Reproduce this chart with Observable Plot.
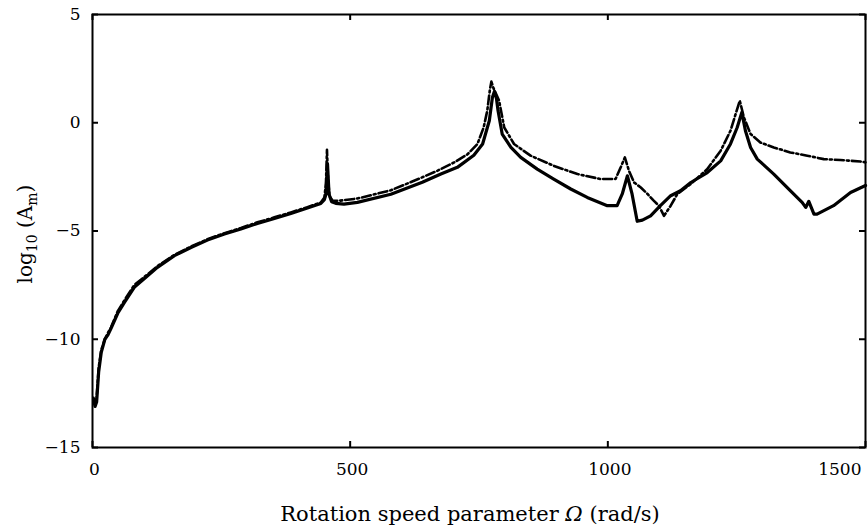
<!DOCTYPE html>
<html>
<head>
<meta charset="utf-8">
<script src="https://cdn.jsdelivr.net/npm/d3@7"></script>
<script src="https://cdn.jsdelivr.net/npm/@observablehq/plot@0.6"></script>
<style>
  html, body { margin: 0; padding: 0; background: #fff; }
  #chart { width: 868px; height: 532px; }
</style>
</head>
<body>
<div id="chart"></div>
<script>
// Rotation speed Ω (rad/s) and log10(Am) — solid curve
const solidOmega = [2,5,8,12,17,24,30,36,49,62,81,107,126,159,191,223,256,288,320,353,385,417,443,450,453,456,459,464,472,488,514,579,640,676,708,740,757,770,776,780,784,787,795,812,831,863,895,928,960,999,1018,1028,1038,1047,1057,1067,1083,1102,1122,1141,1161,1193,1219,1238,1251,1260,1267,1277,1290,1322,1354,1377,1384,1390,1400,1406,1438,1471,1500];
const solidLogA = [-12.8,-13.1,-12.9,-11.5,-10.6,-10.0,-9.8,-9.5,-8.8,-8.3,-7.6,-7.07,-6.68,-6.14,-5.76,-5.42,-5.14,-4.91,-4.65,-4.42,-4.19,-3.94,-3.73,-3.55,-3.3,-1.9,-3.3,-3.65,-3.72,-3.76,-3.68,-3.3,-2.75,-2.37,-2.06,-1.5,-0.98,0.09,1.17,1.45,1.1,0.55,-0.52,-1.14,-1.6,-2.14,-2.6,-3.06,-3.45,-3.83,-3.83,-3.29,-2.45,-3.29,-4.55,-4.5,-4.3,-3.83,-3.37,-3.14,-2.76,-2.3,-1.76,-0.98,-0.22,0.48,-0.37,-1.14,-1.68,-2.37,-3.14,-3.68,-3.91,-3.63,-4.22,-4.22,-3.83,-3.22,-2.9];

// dashed curve
const dashedOmega = [2,5,8,12,17,24,30,36,49,62,81,107,126,159,191,223,256,288,320,353,385,417,443,450,453,455,457,460,466,480,514,579,637,669,702,728,747,759,766,771,774,778,789,799,818,850,895,941,986,1015,1025,1033,1041,1051,1064,1077,1089,1099,1109,1122,1135,1161,1193,1219,1238,1256,1264,1277,1296,1322,1354,1387,1419,1451,1490,1500];
const dashedLogA = [-12.7,-13.0,-12.7,-11.3,-10.5,-10.0,-9.7,-9.45,-8.7,-8.2,-7.5,-7.0,-6.62,-6.1,-5.72,-5.38,-5.1,-4.86,-4.6,-4.37,-4.14,-3.9,-3.68,-3.45,-2.8,-1.25,-2.6,-3.4,-3.6,-3.6,-3.5,-3.12,-2.55,-2.22,-1.83,-1.45,-0.98,-0.22,0.55,1.5,1.9,1.6,1.02,-0.22,-0.98,-1.52,-1.99,-2.37,-2.6,-2.6,-2.06,-1.6,-2.22,-2.76,-2.99,-3.29,-3.6,-3.83,-4.3,-3.83,-3.29,-2.83,-2.14,-1.29,-0.37,1.02,0.25,-0.52,-0.91,-1.14,-1.37,-1.52,-1.68,-1.72,-1.79,-1.83];

const xTicks = [0, 500, 1000, 1500];
const yTicks = [-15, -10, -5, 0, 5];
const xLabel = ["Rotation speed parameter ", "Ω", " (rad/s)"];
const yLabel = ["log", "10", " (A", "m", ")"];

const solid = solidOmega.map((x, i) => ({x, y: solidLogA[i]}));
const dashed = dashedOmega.map((x, i) => ({x, y: dashedLogA[i]}));
const fmt = d => d < 0 ? "\u2212" + Math.abs(d) : String(d);

const W = 868, H = 532, mL = 92, mR = 3, mT = 14, mB = 85, tick = 6;
const innerW = W - mL - mR, innerH = H - mT - mB;

const svg = Plot.plot({
  width: W,
  height: H,
  marginLeft: mL,
  marginRight: mR,
  marginTop: mT,
  marginBottom: mB,
  style: {fontFamily: "DejaVu Serif", fontSize: "17px", color: "black", background: "white"},
  x: {domain: [0, 1500]},
  y: {domain: [-15, 5]},
  marks: [
    // tick labels
    Plot.axisY(yTicks, {anchor: "left", tickSize: 0, tickPadding: 12, tickFormat: fmt, label: null}),
    Plot.axisX(xTicks.slice(0, 3), {anchor: "bottom", tickSize: 0, tickPadding: 15, tickFormat: fmt, label: null, dx: 2}),
    Plot.axisX(xTicks.slice(3), {anchor: "bottom", tickSize: 0, tickPadding: 15, tickFormat: fmt, label: null, textAnchor: "end", dx: -4}),
    // inward tick marks
    Plot.ruleY(yTicks, {y: d => d, insetRight: innerW - tick, stroke: "black", strokeWidth: 2}),
    Plot.ruleY(yTicks, {y: d => d, insetLeft: innerW - tick, stroke: "black", strokeWidth: 2}),
    Plot.ruleX(xTicks, {x: d => d, insetTop: innerH - tick, stroke: "black", strokeWidth: 2}),
    Plot.ruleX(xTicks, {x: d => d, insetBottom: innerH - tick, stroke: "black", strokeWidth: 2}),
    Plot.line(dashed, {x: "x", y: "y", stroke: "black", strokeWidth: 2.6, strokeDasharray: "9,3,2,3"}),
    Plot.line(solid, {x: "x", y: "y", stroke: "black", strokeWidth: 3.2}),
    Plot.frame({stroke: "black", strokeWidth: 2})
  ]
});

const s = d3.select(svg);
const xt = s.append("text")
  .attr("x", 470).attr("y", 521)
  .attr("text-anchor", "middle")
  .attr("font-family", "DejaVu Serif")
  .attr("font-size", 21)
  .attr("fill", "black");
xt.append("tspan").text(xLabel[0]);
xt.append("tspan").attr("font-style", "italic").text(xLabel[1]);
xt.append("tspan").text(xLabel[2]);

const yt = s.append("text")
  .attr("transform", "translate(32,234) rotate(-90)")
  .attr("text-anchor", "middle")
  .attr("font-family", "DejaVu Serif")
  .attr("font-size", 20)
  .attr("fill", "black");
yt.append("tspan").text(yLabel[0]);
yt.append("tspan").attr("font-size", 14).attr("dy", 5).text(yLabel[1]);
yt.append("tspan").attr("dy", -5).text(yLabel[2]);
yt.append("tspan").attr("font-size", 14).attr("dy", 5).text(yLabel[3]);
yt.append("tspan").attr("dy", -5).text(yLabel[4]);

document.getElementById("chart").appendChild(svg);
</script>
</body>
</html>
